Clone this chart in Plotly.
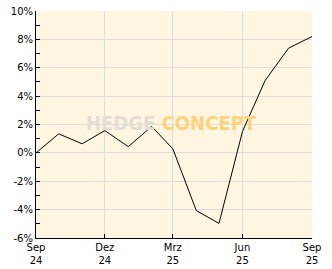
import plotly.graph_objects as go

months = ["2024-09-01", "2024-10-01", "2024-11-01", "2024-12-01", "2025-01-01",
          "2025-02-01", "2025-03-01", "2025-04-01", "2025-05-01", "2025-06-01",
          "2025-07-01", "2025-08-01", "2025-09-01"]
values = [0.0, 1.34, 0.64, 1.57, 0.44, 1.86, 0.28, -4.07, -4.97, 1.5, 5.1, 7.38, 8.2]

x_tickvals = ["2024-09-01", "2024-12-01", "2025-03-01", "2025-06-01", "2025-09-01"]
x_ticktext = ["Sep<br>24", "Dez<br>24", "Mrz<br>25", "Jun<br>25", "Sep<br>25"]
y_tickvals = [-6, -4, -2, 0, 2, 4, 6, 8, 10]
y_ticktext = ["-6%", "-4%", "-2%", "0%", "2%", "4%", "6%", "8%", "10%"]

fig = go.Figure()
fig.add_trace(go.Scatter(x=months, y=values, mode="lines",
                         line=dict(color="#000000", width=1), hoverinfo="skip"))

fig.add_annotation(
    xref="paper", yref="paper", x=0.49, y=0.505, xanchor="center", yanchor="middle",
    text="<span style='color:#e2ded6'>HEDGE </span><span style='color:#fdd37e'>CONCEPT</span>",
    showarrow=False,
    font=dict(family="DejaVu Sans Condensed", size=20, weight="bold"),
)

fig.update_layout(
    width=332, height=269,
    margin=dict(l=36, r=20, t=11, b=31),
    paper_bgcolor="#ffffff", plot_bgcolor="#fef6e0",
    showlegend=False,
    font=dict(family="DejaVu Sans", size=10, color="#000000"),
)
fig.update_xaxes(
    type="date", range=["2024-09-01", "2025-09-01"],
    tickvals=x_tickvals, ticktext=x_ticktext, automargin=False,
    showgrid=True, gridcolor="#dcdcdc", gridwidth=1,
    showline=True, linecolor="#000000", linewidth=1,
    ticks="inside", ticklen=4, tickcolor="#000000",
    zeroline=False,
)
fig.update_yaxes(
    range=[-6, 10], tickvals=y_tickvals, ticktext=y_ticktext, automargin=False,
    showgrid=True, gridcolor="#dcdcdc", gridwidth=1,
    showline=True, linecolor="#000000", linewidth=1,
    ticks="inside", ticklen=4, tickcolor="#000000",
    minor=dict(dtick=1, ticks="inside", ticklen=4, tickcolor="#000000", showgrid=False),
    zeroline=False,
)

fig.write_html("out.html")
